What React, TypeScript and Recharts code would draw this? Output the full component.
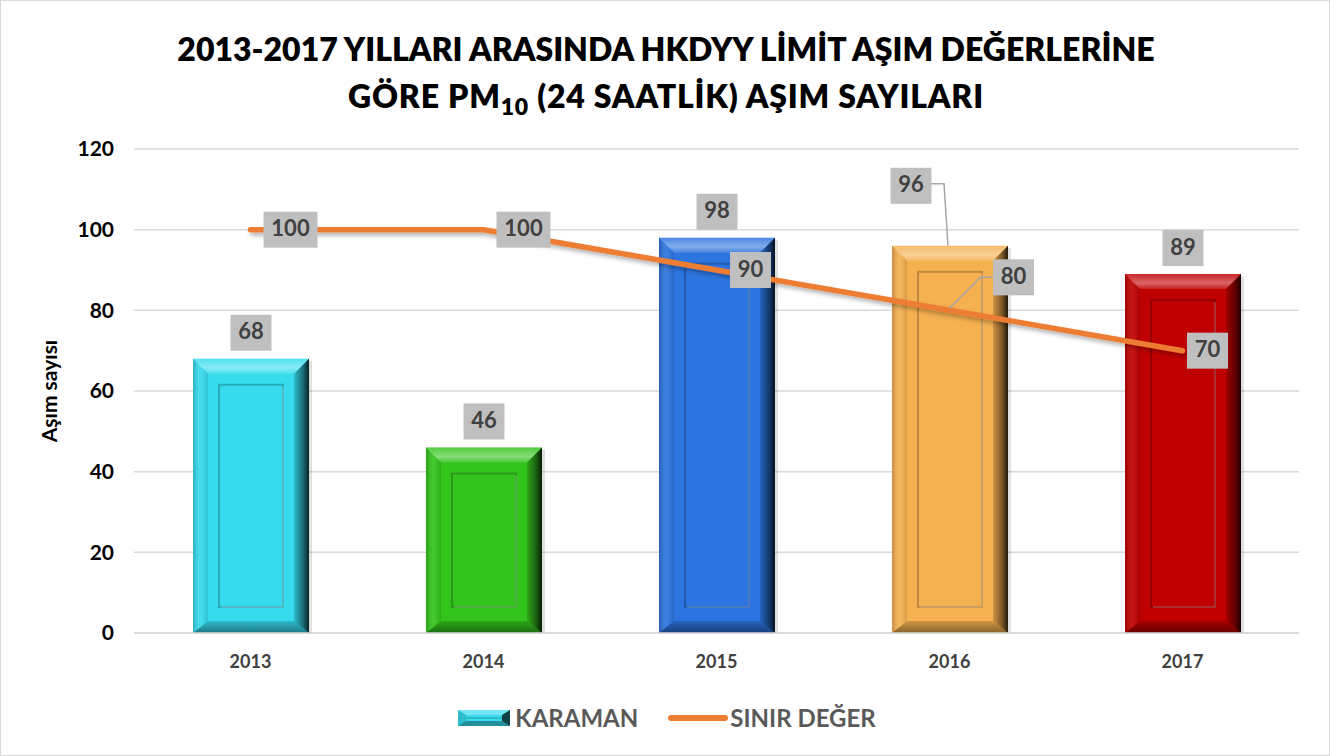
import React from "react";
import {
  ComposedChart,
  Bar,
  Line,
  XAxis,
  YAxis,
  CartesianGrid,
  Legend,
  LabelList,
  Cell,
} from "recharts";

const years = ["2013", "2014", "2015", "2016", "2017"];
const karaman = [68, 46, 98, 96, 89];
const sinirDeger = [100, 100, 90, 80, 70];
const yTicks = [0, 20, 40, 60, 80, 100, 120];

const barColors = ["#36DCEE", "#33C41C", "#2C74DF", "#F5B050", "#C00000"];
const LINE_COLOR = "#ED7D31";
const FONT = "Lato, 'Open Sans', sans-serif";

// label box placement relative to the mark (dx, dy of box centre, optional leader)
const barLabelOffsets = [
  { dx: 0, dy: -26 },
  { dx: 0, dy: -26 },
  { dx: 0, dy: -26 },
  { dx: -39, dy: -60, leader: true },
  { dx: 0, dy: -26 },
];
const lineLabelOffsets = [
  { dx: 40, dy: 0 },
  { dx: 40, dy: 0 },
  { dx: 34, dy: 0 },
  { dx: 64, dy: -33, leader: true },
  { dx: 25, dy: 0 },
];

const data = years.map((year, i) => ({
  year,
  karaman: karaman[i],
  sinir: sinirDeger[i],
}));

function LabelBox({ cx, cy, text }: { cx: number; cy: number; text: string }) {
  const w = text.length > 2 ? 54 : 41;
  const h = 36;
  return (
    <g>
      <rect x={cx - w / 2} y={cy - h / 2} width={w} height={h} fill="#BFBFBF" />
      <text
        x={cx}
        y={cy + 1}
        textAnchor="middle"
        dominantBaseline="middle"
        fontFamily={FONT}
        fontWeight={700}
        fontSize={22}
        fill="#404040"
      >
        {text}
      </text>
    </g>
  );
}

function BarLabel(props: any) {
  const { x, y, width, value, index } = props;
  const o = barLabelOffsets[index];
  const px = x + width / 2;
  const cx = px + o.dx;
  const cy = y + o.dy;
  return (
    <g>
      {o.leader && (
        <polyline
          points={`${cx + 20},${cy - 2} ${px - 6},${cy - 2} ${px - 2},${y}`}
          fill="none"
          stroke="#A6A6A6"
          strokeWidth={1.5}
        />
      )}
      <LabelBox cx={cx} cy={cy} text={String(value)} />
    </g>
  );
}

function LineLabel(props: any) {
  const { x, y, value, index } = props;
  const o = lineLabelOffsets[index];
  const cx = x + o.dx;
  const cy = y + o.dy;
  return (
    <g>
      {o.leader && (
        <polyline
          points={`${cx - 20},${cy} ${cx - 33},${cy} ${x},${y - 2}`}
          fill="none"
          stroke="#A6A6A6"
          strokeWidth={1.5}
        />
      )}
      <LabelBox cx={cx} cy={cy} text={String(value)} />
    </g>
  );
}

function BevelBar(props: any) {
  const { x, y, width: w, height: h, fill } = props;
  if (!h || h <= 0) return null;
  const b = 15;
  const bb = 12;
  const ins = 26;
  return (
    <g>
      <rect x={x + 3} y={y + 2} width={w} height={h - 2} fill="#000" opacity={0.12} />
      <rect x={x} y={y} width={w} height={h} fill={fill} />
      {/* top bevel */}
      <polygon
        points={`${x},${y} ${x + w},${y} ${x + w - b},${y + b} ${x + b},${y + b}`}
        fill="url(#bevelTop)"
      />
      {/* left bevel */}
      <polygon
        points={`${x},${y} ${x + b},${y + b} ${x + b},${y + h - bb} ${x},${y + h}`}
        fill="url(#bevelLeft)"
      />
      {/* right bevel */}
      <polygon
        points={`${x + w},${y} ${x + w},${y + h} ${x + w - b},${y + h - bb} ${x + w - b},${y + b}`}
        fill="url(#bevelRight)"
      />
      {/* bottom bevel */}
      <polygon
        points={`${x},${y + h} ${x + w},${y + h} ${x + w - b},${y + h - bb} ${x + b},${y + h - bb}`}
        fill="url(#bevelBottom)"
      />
      {/* inner panel */}
      {h > ins * 2 + 4 && (
        <g>
          <rect
            x={x + ins}
            y={y + ins}
            width={w - ins * 2}
            height={h - ins * 2}
            fill="none"
            stroke="#000"
            strokeOpacity={0.22}
            strokeWidth={2}
          />
          <polyline
            points={`${x + ins + 2},${y + h - ins} ${x + w - ins},${y + h - ins} ${x + w - ins},${y + ins + 2}`}
            fill="none"
            stroke="#fff"
            strokeOpacity={0.25}
            strokeWidth={1.5}
          />
        </g>
      )}
    </g>
  );
}

function LegendIcon() {
  return (
    <svg width={52} height={16} style={{ display: "block" }}>
      <rect x={0} y={0} width={52} height={16} fill={barColors[0]} />
      <polygon points="0,0 52,0 44,5 8,5" fill="#fff" opacity={0.3} />
      <polygon points="0,16 52,16 44,11 8,11" fill="#000" opacity={0.35} />
      <polygon points="44,5 52,0 52,16 44,11" fill="#000" opacity={0.7} />
      <polygon points="0,0 8,5 8,11 0,16" fill="#000" opacity={0.15} />
      <line x1={8} y1={8} x2={44} y2={8} stroke="#000" strokeOpacity={0.3} strokeWidth={1} />
    </svg>
  );
}

function renderLegend() {
  const textStyle: React.CSSProperties = {
    fontFamily: FONT,
    fontWeight: 700,
    fontSize: 24,
    color: "#595959",
    lineHeight: "28px",
  };
  return (
    <div style={{ display: "flex", justifyContent: "center", alignItems: "center", gap: 0, paddingRight: 39 }}>
      <div style={{ display: "flex", alignItems: "center", marginRight: 30 }}>
        <LegendIcon />
        <span style={{ ...textStyle, marginLeft: 5 }}>KARAMAN</span>
      </div>
      <div style={{ display: "flex", alignItems: "center" }}>
        <svg width={60} height={10} style={{ display: "block" }}>
          <line x1={3} y1={5} x2={57} y2={5} stroke={LINE_COLOR} strokeWidth={6} strokeLinecap="round" />
        </svg>
        <span style={{ ...textStyle, marginLeft: 2 }}>SINIR DEĞER</span>
      </div>
    </div>
  );
}

export default function App() {
  return (
    <div
      style={{
        position: "fixed",
        left: 0,
        top: 0,
        width: 1330,
        height: 756,
        background: "#fff",
        boxSizing: "border-box",
        border: "1px solid #D9D9D9",
      }}
    >
      <div
        style={{
          position: "absolute",
          top: 24,
          left: 0,
          width: 1330,
          textAlign: "center",
          fontFamily: FONT,
          fontWeight: 800,
          fontSize: 32,
          lineHeight: "47px",
          color: "#000",
        }}
      >
        <div>2013-2017 YILLARI ARASINDA HKDYY LİMİT AŞIM DEĞERLERİNE</div>
        <div style={{ letterSpacing: "0.8px" }}>
          GÖRE PM<sub style={{ fontSize: 23, verticalAlign: "-7px", lineHeight: 0 }}>10</sub> (24 SAATLİK) AŞIM SAYILARI
        </div>
      </div>
      <div style={{ position: "absolute", left: 0, top: 0 }}>
        <ComposedChart
          width={1330}
          height={756}
          data={data}
          margin={{ top: 148, right: 32, bottom: 13, left: 73 }}
          barCategoryGap="25%"
        >
          <defs>
            <linearGradient id="bevelTop" x1="0" y1="0" x2="0" y2="1">
              <stop offset="0%" stopColor="#fff" stopOpacity={0.15} />
              <stop offset="60%" stopColor="#fff" stopOpacity={0.4} />
              <stop offset="100%" stopColor="#fff" stopOpacity={0.12} />
            </linearGradient>
            <linearGradient id="bevelLeft" x1="0" y1="0" x2="1" y2="0">
              <stop offset="0%" stopColor="#000" stopOpacity={0.2} />
              <stop offset="50%" stopColor="#fff" stopOpacity={0.08} />
              <stop offset="100%" stopColor="#000" stopOpacity={0.12} />
            </linearGradient>
            <linearGradient id="bevelRight" x1="0" y1="0" x2="1" y2="0">
              <stop offset="0%" stopColor="#000" stopOpacity={0.15} />
              <stop offset="60%" stopColor="#000" stopOpacity={0.5} />
              <stop offset="100%" stopColor="#000" stopOpacity={0.85} />
            </linearGradient>
            <linearGradient id="bevelBottom" x1="0" y1="0" x2="0" y2="1">
              <stop offset="0%" stopColor="#000" stopOpacity={0.15} />
              <stop offset="100%" stopColor="#000" stopOpacity={0.45} />
            </linearGradient>
            <filter id="lineShadow" x="-5%" y="-20%" width="110%" height="140%">
              <feDropShadow dx="2" dy="3" stdDeviation="2" floodColor="#000" floodOpacity="0.3" />
            </filter>
          </defs>
          <CartesianGrid vertical={false} stroke="#D9D9D9" strokeWidth={1.5} />
          <XAxis
            dataKey="year"
            axisLine={{ stroke: "#D9D9D9", strokeWidth: 1.5 }}
            tickLine={false}
            tickSize={0}
            tickMargin={22}
            height={71}
            tick={{ fontFamily: FONT, fontWeight: 700, fontSize: 18, fill: "#404040" }}
          />
          <YAxis
            width={60}
            domain={[0, 120]}
            ticks={yTicks}
            axisLine={false}
            tickLine={false}
            tickSize={0}
            tickMargin={20}
            tick={{ fontFamily: FONT, fontWeight: 700, fontSize: 21, fill: "#000" }}
            label={{
              content: (p: any) => {
                const vb = p.viewBox;
                const cy = vb.y + vb.height / 2;
                return (
                  <text
                    x={56}
                    y={cy}
                    transform={`rotate(-90 56 ${cy})`}
                    textAnchor="middle"
                    fontFamily={FONT}
                    fontWeight={700}
                    fontSize={21}
                    fill="#000"
                  >
                    Aşım sayısı
                  </text>
                );
              },
            }}
          />
          <Legend verticalAlign="bottom" height={40} content={renderLegend} />
          <Bar
            dataKey="karaman"
            name="KARAMAN"
            barSize={116}
            shape={<BevelBar />}
            isAnimationActive={false}
          >
            {data.map((_, i) => (
              <Cell key={i} fill={barColors[i]} />
            ))}
            <LabelList dataKey="karaman" content={<BarLabel />} />
          </Bar>
          <Line
            dataKey="sinir"
            name="SINIR DEĞER"
            type="linear"
            stroke={LINE_COLOR}
            strokeWidth={5.5}
            strokeLinecap="round"
            filter="url(#lineShadow)"
            dot={false}
            activeDot={false}
            isAnimationActive={false}
          >
            <LabelList dataKey="sinir" content={<LineLabel />} />
          </Line>
        </ComposedChart>
      </div>
    </div>
  );
}
